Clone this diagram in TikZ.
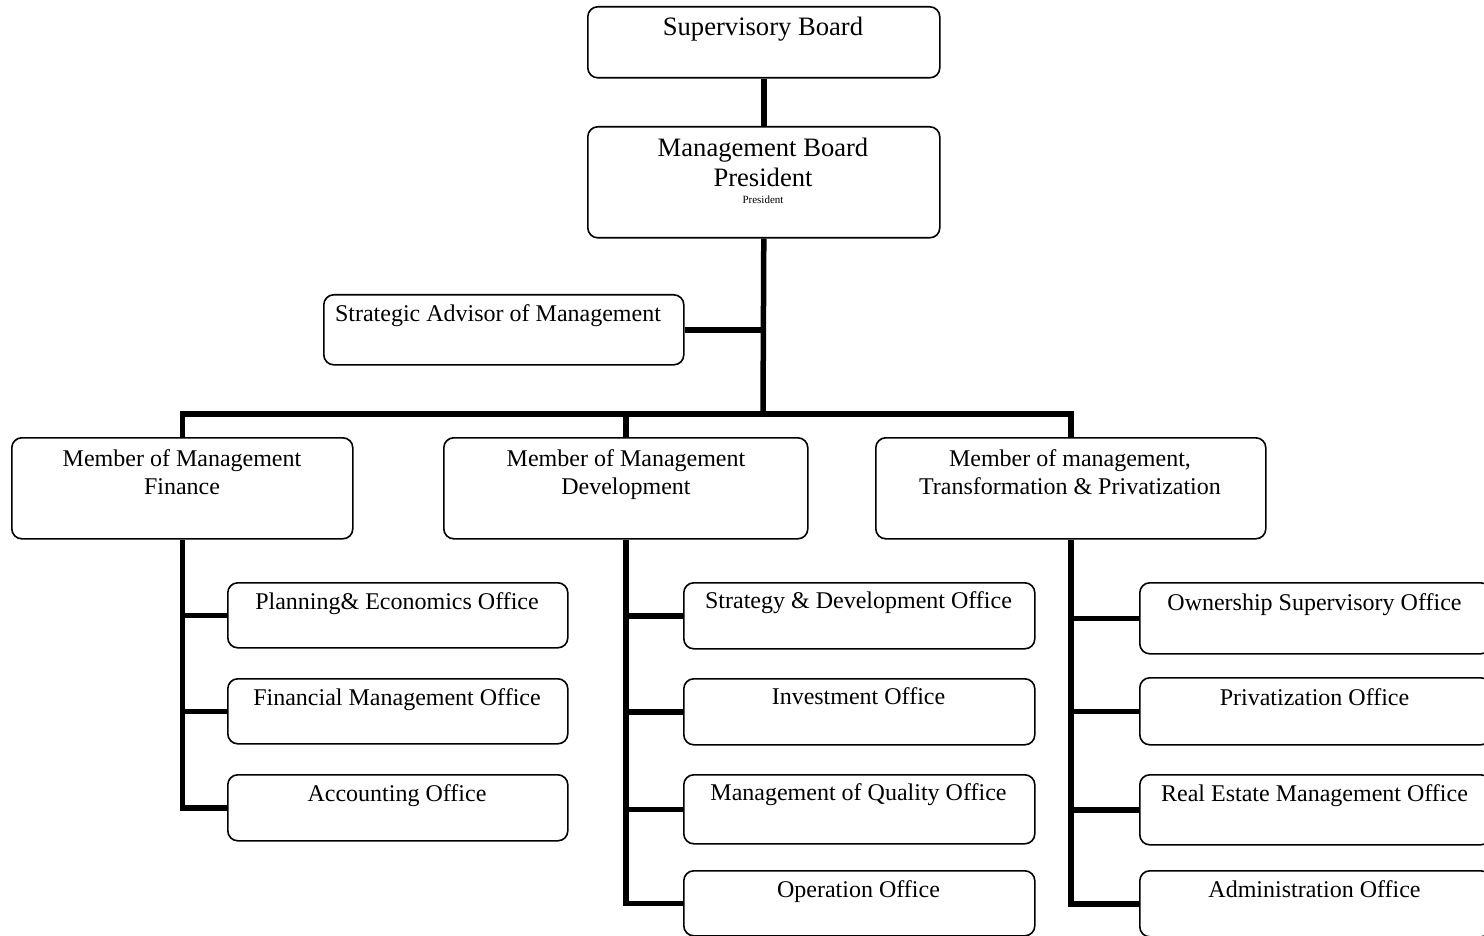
\documentclass[tikz,border=0pt]{standalone}
\usepackage{fontspec}
\setmainfont{Liberation Serif}
\begin{document}
\begin{tikzpicture}[x=1pt,y=-1pt,
  box/.style={draw, line width=1.6pt, rounded corners=10pt, anchor=north west,
    inner sep=0pt, minimum width=#1},
  box/.default=351,
  bigtxt/.style={anchor=base, inner sep=0pt, align=center,
    font=\fontsize{26.6}{30}\selectfont},
  txt/.style={anchor=base, inner sep=0pt, align=center,
    font=\fontsize{24}{28}\selectfont},
  smalltxt/.style={anchor=base, inner sep=0pt, font=\fontsize{11}{13}\selectfont},
  link/.style={line width=5.5pt, line join=miter}]
\useasboundingbox (0,0) rectangle (1484,936);

% --- boards and advisor ---
\node[box=352, minimum height=71]  (sup)   at (587,6)   {};
\node[box=352, minimum height=111] (mgmt)  at (587,126) {};
\node[box=360, minimum height=70]  (adv)   at (323,294) {};

% --- members of management ---
\node[box=341, minimum height=101] (fin)   at (11,437)  {};
\node[box=364, minimum height=101] (dev)   at (443,437) {};
\node[box=390, minimum height=101] (trans) at (875,437) {};

% --- finance offices ---
\node[box=340, minimum height=65] (plan)  at (227,582) {};
\node[box=340, minimum height=65] (finm)  at (227,678) {};
\node[box=340, minimum height=66] (acc)   at (227,774) {};

% --- development offices ---
\node[box, minimum height=66] (strat) at (683,582) {};
\node[box, minimum height=66] (inv)   at (683,678) {};
\node[box, minimum height=69] (qual)  at (683,774) {};
\node[box, minimum height=65] (oper)  at (683,870) {};

% --- transformation & privatization offices ---
\node[box, minimum height=71] (own)   at (1139,582) {};
\node[box, minimum height=67] (priv)  at (1139,677) {};
\node[box, minimum height=70] (real)  at (1139,774) {};
\node[box, minimum height=66] (admin) at (1139,870) {};

% --- labels (multi-line labels sit on the baseline of their last line) ---
\node[bigtxt] (t-sup)  at (763,36)    {Supervisory Board};
\node[bigtxt] (t-mgmt) at (763,186.7) {Management Board\\President};
\node[smalltxt] (t-pres) at (763,204) {President};
\node[txt] (t-adv)   at (498,321.7) {Strategic Advisor of Management};
\node[txt] (t-fin)   at (182,494.7) {Member of Management\\Finance};
\node[txt] (t-dev)   at (626,494.7) {Member of Management\\Development};
\node[txt] (t-trans) at (1070,494.7) {Member of management,\\Transformation \& Privatization};
\node[txt] (t-plan)  at (397,609)  {Planning\& Economics Office};
\node[txt] (t-finm)  at (397,705)  {Financial Management Office};
\node[txt] (t-acc)   at (397,801)  {Accounting Office};
\node[txt] (t-strat) at (858.5,608.5) {Strategy \& Development Office};
\node[txt] (t-inv)   at (858.5,704.5) {Investment Office};
\node[txt] (t-qual)  at (858.5,800.5) {Management of Quality Office};
\node[txt] (t-oper)  at (858.5,897)   {Operation Office};
\node[txt] (t-own)   at (1314.5,610)  {Ownership Supervisory Office};
\node[txt] (t-priv)  at (1314.5,705)  {Privatization Office};
\node[txt] (t-real)  at (1314.5,801.5) {Real Estate Management Office};
\node[txt] (t-admin) at (1314.5,897)  {Administration Office};

% --- connectors ---
\coordinate (bus) at (763,414);
\draw[link] (sup.south) -- (mgmt.north);
\draw[link] (mgmt.south) -- (bus);
\draw[link] (adv.east) -- (adv.east -| bus);
\draw[link] (fin.north) |- (bus) -| (trans.north);
\draw[link] (dev.north) -- (dev.north |- bus);

\draw[link] (fin.south) |- (acc.west);
\draw[link] (fin.south |- plan.west) -- (plan.west);
\draw[link] (fin.south |- finm.west) -- (finm.west);

\draw[link] (dev.south) |- (oper.west);
\draw[link] (dev.south |- strat.west) -- (strat.west);
\draw[link] (dev.south |- inv.west) -- (inv.west);
\draw[link] (dev.south |- qual.west) -- (qual.west);

\draw[link] (trans.south) |- (admin.west);
\draw[link] (trans.south |- own.west) -- (own.west);
\draw[link] (trans.south |- priv.west) -- (priv.west);
\draw[link] (trans.south |- real.west) -- (real.west);
\end{tikzpicture}
\end{document}
